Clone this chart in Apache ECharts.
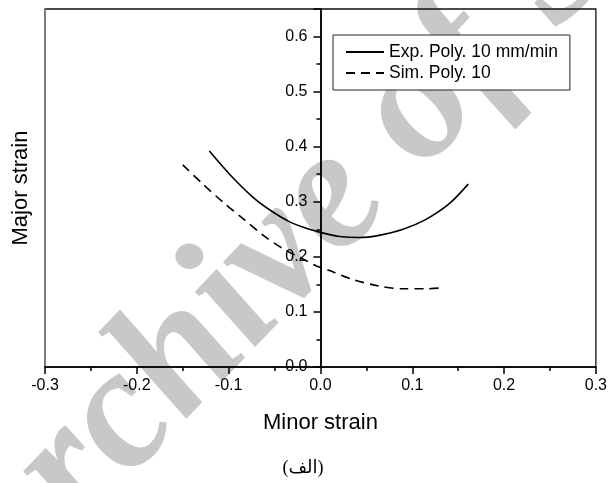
<!DOCTYPE html>
<html>
<head>
<meta charset="utf-8">
<script src="https://cdn.jsdelivr.net/npm/echarts@6/dist/echarts.min.js"></script>
<style>
  html, body { margin: 0; padding: 0; background: #fff; }
  #chart { width: 610px; height: 483px; }
</style>
</head>
<body>
<div id="chart"></div>
<script>
// Forming limit curves: minor strain vs major strain
var expMinor = [-0.121, -0.099, -0.074, -0.055, -0.034, -0.012, 0.001, 0.021, 0.042, 0.064, 0.090, 0.115, 0.140, 0.161];
var expMajor = [0.392, 0.350, 0.309, 0.285, 0.264, 0.250, 0.244, 0.237, 0.235, 0.239, 0.250, 0.268, 0.296, 0.332];

var simMinor = [-0.150, -0.128, -0.106, -0.084, -0.063, -0.041, -0.019, -0.005, 0.010, 0.035, 0.064, 0.090, 0.115, 0.135];
var simMajor = [0.367, 0.332, 0.299, 0.269, 0.240, 0.215, 0.196, 0.184, 0.175, 0.159, 0.147, 0.142, 0.142, 0.144];

var seriesNames = ['Exp. Poly. 10 mm/min', 'Sim. Poly. 10'];
var xTickLabels = ['-0.3', '-0.2', '-0.1', '0.0', '0.1', '0.2', '0.3'];
var yTickLabels = ['0.0', '0.1', '0.2', '0.3', '0.4', '0.5', '0.6'];

function pairs(xs, ys) {
  return xs.map(function (x, i) { return [x, ys[i]]; });
}

var FONT = '"Liberation Sans", Arial, sans-serif';
var GRID_LEFT = 45, GRID_RIGHT = 14;
var PLOT_W = 610 - GRID_LEFT - GRID_RIGHT;
// horizontal pixel position of minor strain = 0 inside the plot
var ZERO_X = GRID_LEFT + PLOT_W * 0.5;

var chart = echarts.init(document.getElementById('chart'), null, { renderer: 'canvas' });

chart.setOption({
  animation: false,
  backgroundColor: '#ffffff',
  grid: {
    left: GRID_LEFT, right: GRID_RIGHT, top: 9, bottom: 116,
    show: true, borderColor: '#111', borderWidth: 1.3,
    backgroundColor: 'transparent'
  },
  graphic: [
    {
      // archive watermark, slightly widened
      type: 'group', z: -10, silent: true, scaleX: 1.1,
      children: [{
        type: 'text', z: -10, silent: true,
        x: 313, y: 187, rotation: 49 * Math.PI / 180,
        style: {
          text: 'Archive of SID',
          font: 'italic bold 169px "Liberation Serif", "Times New Roman", serif',
          fill: '#c8c8c8', textAlign: 'center', textVerticalAlign: 'middle'
        }
      }]
    },
    {
      type: 'text', z: 10,
      x: 303, y: 468,
      style: {
        text: '(الف)',
        font: '18px "Liberation Serif", "DejaVu Sans", serif',
        fill: '#000', textAlign: 'center', textVerticalAlign: 'middle'
      }
    }
  ],
  legend: {
    data: seriesNames,
    orient: 'vertical',
    left: 333, top: 35,
    itemWidth: 38, itemHeight: 14, itemGap: 1,
    padding: [7, 12, 7, 12],
    borderColor: '#222', borderWidth: 1,
    backgroundColor: '#fff',
    itemStyle: { color: 'transparent', borderColor: 'transparent', borderWidth: 0, opacity: 0 },
    textStyle: { fontFamily: FONT, fontSize: 17.5, color: '#000', lineHeight: 20 }
  },
  xAxis: [{
    type: 'value', min: -0.3, max: 0.3, interval: 0.1,
    name: 'Minor strain', nameLocation: 'middle', nameGap: 45,
    nameTextStyle: { fontFamily: FONT, fontSize: 22, color: '#000' },
    axisLine: { onZero: true, onZeroAxisIndex: 0, lineStyle: { color: '#000', width: 1.5 } },
    axisTick: { show: true, inside: false, length: 7, lineStyle: { color: '#000', width: 1.5 } },
    minorTick: { show: true, splitNumber: 2, length: 4, lineStyle: { color: '#000', width: 1.5 } },
    axisLabel: {
      margin: 11, fontFamily: FONT, fontSize: 16, color: '#000',
      formatter: function (v) {
        var i = Math.round((v + 0.3) * 10);
        return xTickLabels[i] !== undefined ? xTickLabels[i] : '';
      }
    },
    splitLine: { show: false }
  }],
  yAxis: [
    {
      // minor ticks every 0.05 on the x = 0 line
      type: 'value', min: 0, max: 0.65, interval: 0.05, position: 'left',
      axisLine: { onZero: true, onZeroAxisIndex: 0, lineStyle: { color: '#000', width: 1.5 } },
      axisTick: { show: true, inside: false, length: 4, lineStyle: { color: '#000', width: 1.5 } },
      axisLabel: { show: false },
      splitLine: { show: false }
    },
    {
      // major ticks every 0.1 on the x = 0 line
      type: 'value', min: 0, max: 0.65, interval: 0.1, position: 'left',
      axisLine: { onZero: true, onZeroAxisIndex: 0, lineStyle: { color: '#000', width: 1.5 } },
      axisTick: { show: true, inside: false, length: 7, lineStyle: { color: '#000', width: 1.5 } },
      axisLabel: { show: false },
      splitLine: { show: false }
    },
    {
      // left frame edge: axis title, plus tick labels pushed in next to x = 0
      type: 'value', min: 0, max: 0.65, interval: 0.1, position: 'left',
      name: 'Major strain', nameLocation: 'middle', nameGap: 13, nameRotate: 90,
      nameTextStyle: { fontFamily: FONT, fontSize: 22, color: '#000' },
      axisLine: { show: true, onZero: false, lineStyle: { color: '#808080', width: 1.6 } },
      axisTick: { show: false },
      axisLabel: {
        inside: true, align: 'right',
        margin: ZERO_X - GRID_LEFT - 13,
        fontFamily: FONT, fontSize: 16, color: '#000',
        formatter: function (v) {
          var k = Math.round(v * 10);
          if (Math.abs(v * 10 - k) > 1e-6) return '';
          return yTickLabels[k] !== undefined ? yTickLabels[k] : '';
        }
      },
      splitLine: { show: false }
    }
  ],
  series: [
    {
      name: seriesNames[0], type: 'line',
      xAxisIndex: 0, yAxisIndex: 0,
      data: pairs(expMinor, expMajor),
      smooth: 0.3, showSymbol: false, symbol: 'none',
      lineStyle: { color: '#000', width: 1.6, type: 'solid' },
      itemStyle: { color: '#000' },
      z: 5
    },
    {
      name: seriesNames[1], type: 'line',
      xAxisIndex: 0, yAxisIndex: 0,
      data: pairs(simMinor, simMajor),
      smooth: 0.3, showSymbol: false, symbol: 'none',
      lineStyle: { color: '#000', width: 1.6, type: [9, 6] },
      itemStyle: { color: '#000' },
      z: 5
    }
  ]
});
</script>
</body>
</html>
